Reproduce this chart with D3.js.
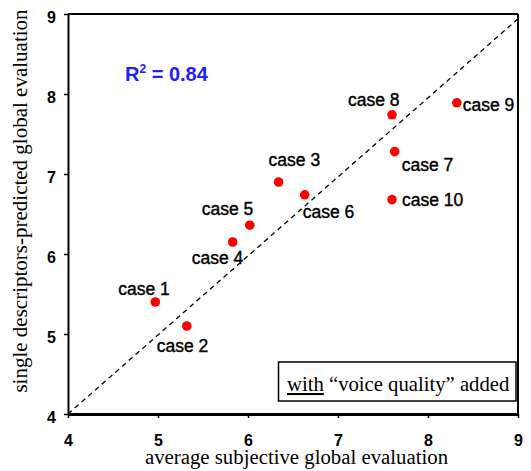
<!DOCTYPE html>
<html>
<head>
<meta charset="utf-8">
<script src="https://cdn.jsdelivr.net/npm/d3@7"></script>
<style>
html,body{margin:0;padding:0;background:#fff;}
svg{display:block;}
</style>
</head>
<body>
<svg id="chart" width="531" height="471"></svg>
<script>
// ---- data ----
const caseNames = ["case 1","case 2","case 3","case 4","case 5","case 6","case 7","case 8","case 9","case 10"];
const subjectiveValues = [4.97, 5.32, 6.34, 5.83, 6.02, 6.63, 7.63, 7.60, 8.32, 7.60];
const predictedValues  = [5.40, 5.10, 6.90, 6.15, 6.36, 6.74, 7.28, 7.74, 7.89, 6.68];
const xTicks = [4, 5, 6, 7, 8, 9];
const yTicks = [4, 5, 6, 7, 8, 9];
const refLineX = [4, 9];
const refLineY = [4, 8.94];
const rSquared = "0.84";

// ---- layout (label placement relative to each point, in px) ----
const labelPlacement = {
  "case 1": [-37, -7], "case 2": [-30, 26], "case 3": [-10, -16], "case 4": [-41, 22],
  "case 5": [-48, -10], "case 6": [-2, 23], "case 7": [7, 19], "case 8": [-44, -9],
  "case 9": [6, 8], "case 10": [10, 6]
};

const svg = d3.select("#chart");
const pLeft = 68, pRight = 518, pTop = 14, pBottom = 414;
const x = d3.scaleLinear().domain([4, 9]).range([pLeft, pRight]);
const y = d3.scaleLinear().domain([4, 9]).range([pBottom, pTop]);

// frame top/right
svg.append("line").attr("x1", pLeft).attr("x2", pRight).attr("y1", pTop).attr("y2", pTop)
  .attr("stroke", "#000").attr("stroke-width", 2);
svg.append("line").attr("x1", pRight).attr("x2", pRight).attr("y1", pTop).attr("y2", pBottom)
  .attr("stroke", "#000").attr("stroke-width", 2);

// axes
const yAxis = svg.append("g").attr("transform", `translate(${pLeft},0)`)
  .call(d3.axisLeft(y).tickValues(yTicks).tickFormat(d3.format("d")).tickSize(4).tickPadding(8).tickSizeOuter(0));
yAxis.select(".domain").attr("stroke-width", 2);
yAxis.selectAll(".tick line").attr("stroke-width", 1.5);
yAxis.selectAll(".tick text").attr("dy", "0.9em").attr("y", -6)
  .attr("font-family", "Arial, 'Liberation Sans', sans-serif").attr("font-size", 16).attr("font-weight", "bold").attr("fill", "#000");

const xAxis = svg.append("g").attr("transform", `translate(0,${pBottom})`)
  .call(d3.axisBottom(x).tickValues(xTicks).tickFormat(d3.format("d")).tickSize(4).tickPadding(17).tickSizeOuter(0));
xAxis.select(".domain").attr("stroke-width", 3);
xAxis.selectAll(".tick line").attr("stroke-width", 1.5);
xAxis.selectAll(".tick text")
  .attr("font-family", "Arial, 'Liberation Sans', sans-serif").attr("font-size", 16).attr("font-weight", "bold").attr("fill", "#000");

// reference dashed line
const line = d3.line().x(d => x(d[0])).y(d => y(d[1]));
svg.append("path").datum(d3.zip(refLineX, refLineY)).attr("d", line)
  .attr("fill", "none").attr("stroke", "#000").attr("stroke-width", 1.3).attr("stroke-dasharray", "5,4");

// points
const pts = caseNames.map((n, i) => ({name: n, sx: subjectiveValues[i], py: predictedValues[i]}));
svg.append("g").selectAll("circle").data(pts).join("circle")
  .attr("cx", d => x(d.sx)).attr("cy", d => y(d.py)).attr("r", 4.8).attr("fill", "#ff0000");

svg.append("g").selectAll("text").data(pts).join("text")
  .attr("x", d => x(d.sx) + labelPlacement[d.name][0])
  .attr("y", d => y(d.py) + labelPlacement[d.name][1])
  .attr("font-family", "Arial, 'Liberation Sans', sans-serif").attr("font-size", 17.5)
  .attr("fill", "#000").attr("stroke", "#000").attr("stroke-width", 0.4)
  .text(d => d.name);

// R^2
const rt = svg.append("text").attr("x", 125).attr("y", 81)
  .attr("font-family", "Arial, 'Liberation Sans', sans-serif").attr("font-size", 20).attr("font-weight", "bold")
  .attr("fill", "#2020ff");
rt.append("tspan").text("R");
rt.append("tspan").attr("dy", -8).attr("font-size", 12).text("2");
rt.append("tspan").attr("dy", 8).text(" = " + rSquared);

// legend box
svg.append("rect").attr("x", 278.5).attr("y", 362).attr("width", 237.5).attr("height", 39)
  .attr("fill", "#fff").attr("stroke", "#000").attr("stroke-width", 1.5);
const lt = svg.append("text").attr("x", 287).attr("y", 391)
  .attr("font-family", "'Times New Roman', 'Liberation Serif', serif").attr("font-size", 20.7).attr("fill", "#000");
lt.append("tspan").attr("text-decoration", "underline").text("with");
lt.append("tspan").text(" \u201Cvoice quality\u201D added");

// axis titles
svg.append("text").attr("x", (145 + 448) / 2).attr("y", 464).attr("text-anchor", "middle")
  .attr("font-family", "'Times New Roman', 'Liberation Serif', serif").attr("font-size", 20.8).attr("fill", "#000")
  .text("average subjective global evaluation");
svg.append("text").attr("transform", "translate(27,201) rotate(-90)").attr("text-anchor", "middle")
  .attr("font-family", "'Times New Roman', 'Liberation Serif', serif").attr("font-size", 21).attr("fill", "#000")
  .text("single descriptors-predicted global evaluation");
</script>
</body>
</html>
